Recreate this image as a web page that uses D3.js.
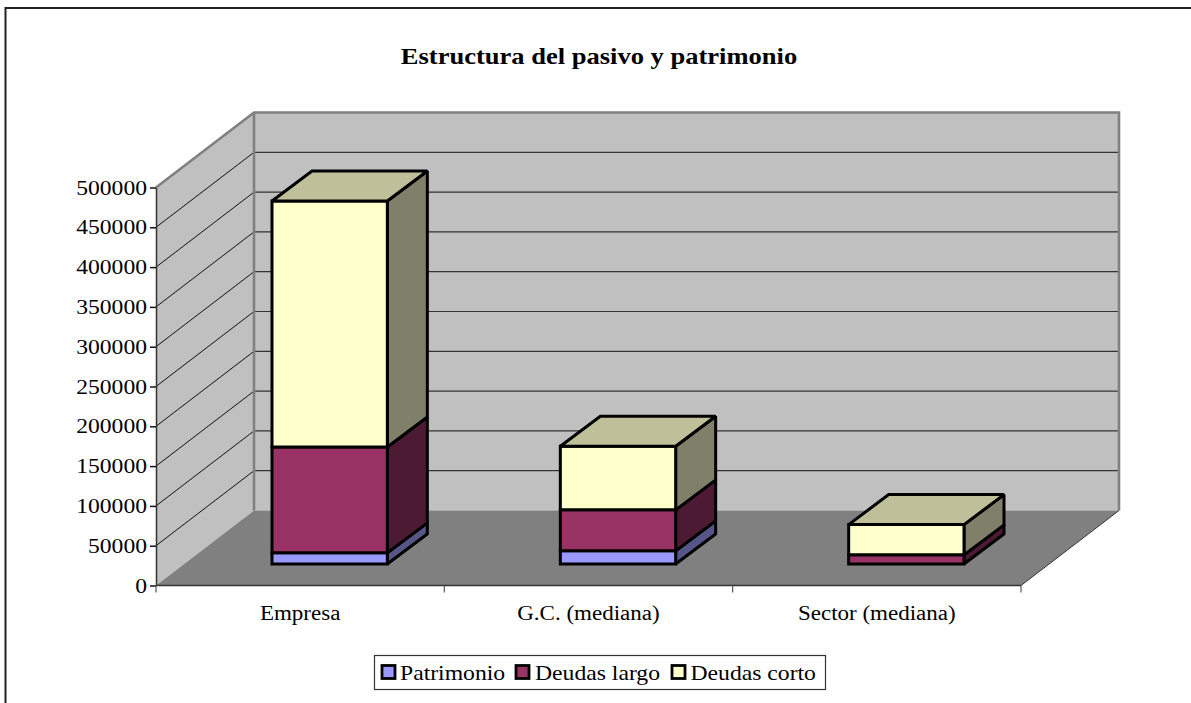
<!DOCTYPE html>
<html>
<head>
<meta charset="utf-8">
<script src="https://cdn.jsdelivr.net/npm/d3@7"></script>
<style>
html, body { margin: 0; padding: 0; background: #fff; overflow: hidden; }
text { font-family: "Liberation Serif", serif; fill: #000; }
</style>
</head>
<body>
<svg width="1191" height="703"></svg>
<script>
var categories = ["Empresa", "G.C. (mediana)", "Sector (mediana)"];
var seriesNames = ["Patrimonio", "Deudas largo", "Deudas corto"];
var patrimonio = [14000, 16500, 0];
var deudasLargo = [133000, 51500, 11500];
var deudasCorto = [309000, 80000, 38000];
var yTicks = [0, 50000, 100000, 150000, 200000, 250000, 300000, 350000, 400000, 450000, 500000];

var front = ["#9999ff", "#993366", "#ffffcc"],
    side = ["#555587", "#4d1a33", "#80806a"],
    top3d = ["#9999ff", "#993366", "#bfbf99"];

var svg = d3.select("svg"),
    x0 = 156, x1 = 1021,
    y0 = 585.5, y1 = 187.5,
    wallDx = 98, wallDy = 75,
    barDx = 40, barDy = 30,
    barShiftX = 29.5, barShiftY = 21.5;

var x = d3.scaleBand().domain(categories).range([x0, x1]).paddingInner(0.6).paddingOuter(0.3);
var xEdge = d3.scaleLinear().domain([0, categories.length]).range([x0, x1]);
var y = d3.scaleLinear().domain([0, 500000]).range([y0, y1]);

function pts(a) { return a.map(function(p) { return p.join(","); }).join(" "); }

// the reference text is stretched sideways
function widen(sel, k) {
  sel.each(function() {
    this.setAttribute("textLength", this.getComputedTextLength() * k);
    this.setAttribute("lengthAdjust", "spacingAndGlyphs");
  });
}

// outer frame, runs off the right and bottom of the page
svg.append("path")
    .attr("d", "M5.5,703V8H1191")
    .attr("fill", "none").attr("stroke", "#222").attr("stroke-width", 2);

svg.append("text")
    .attr("x", 599).attr("y", 64)
    .attr("text-anchor", "middle")
    .attr("font-size", 24).attr("font-weight", "bold")
    .text("Estructura del pasivo y patrimonio")
    .call(widen, 1.105);

// walls and floor
svg.append("polygon")
    .attr("points", pts([[x0, y0], [x0 + wallDx, y0 - wallDy], [x0 + wallDx, y1 - wallDy], [x0, y1]]))
    .attr("fill", "#c0c0c0");
svg.append("polygon")
    .attr("points", pts([[x0 + wallDx, y0 - wallDy], [x1 + wallDx, y0 - wallDy], [x1 + wallDx, y1 - wallDy], [x0 + wallDx, y1 - wallDy]]))
    .attr("fill", "#c0c0c0");
svg.append("polygon")
    .attr("points", pts([[x0, y0], [x1, y0], [x1 + wallDx, y0 - wallDy], [x0 + wallDx, y0 - wallDy]]))
    .attr("fill", "#808080");

// gridlines
var grid = yTicks.slice(1);
svg.append("g").selectAll("line").data(grid.slice(0, -1)).enter().append("line")
    .attr("x1", x0).attr("y1", function(d) { return y(d); })
    .attr("x2", x0 + wallDx).attr("y2", function(d) { return y(d) - wallDy; })
    .attr("stroke", "#111").attr("stroke-width", 1);
svg.append("g").selectAll("line").data(grid.slice(0, -1)).enter().append("line")
    .attr("x1", x0 + wallDx).attr("y1", function(d) { return y(d) - wallDy; })
    .attr("x2", x1 + wallDx).attr("y2", function(d) { return y(d) - wallDy; })
    .attr("stroke", "#333").attr("stroke-width", 1.2);

// wall edges
svg.append("path")
    .attr("d", "M" + x0 + "," + y1 + "L" + (x0 + wallDx) + "," + (y1 - wallDy) + "H" + (x1 + wallDx) + "V" + (y0 - wallDy))
    .attr("fill", "none").attr("stroke", "#808080").attr("stroke-width", 2.6);
svg.append("line")
    .attr("x1", x0 + wallDx).attr("x2", x0 + wallDx)
    .attr("y1", y1 - wallDy).attr("y2", y0 - wallDy)
    .attr("stroke", "#808080").attr("stroke-width", 2.6);
svg.append("line")
    .attr("x1", x1).attr("y1", y0).attr("x2", x1 + wallDx).attr("y2", y0 - wallDy)
    .attr("stroke", "#333").attr("stroke-width", 1);

// stacked 3d bars
var table = categories.map(function(c, i) {
  return { cat: c, "Patrimonio": patrimonio[i], "Deudas largo": deudasLargo[i], "Deudas corto": deudasCorto[i] };
});
var stack = d3.stack().keys(seriesNames)(table);
var bars = svg.append("g")
    .attr("stroke", "#000").attr("stroke-width", 3)
    .attr("stroke-linejoin", "miter").attr("stroke-miterlimit", 1.5);

stack.forEach(function(layer, s) {
  layer.forEach(function(d) {
    if (d[1] - d[0] <= 0) return;
    var l = x(d.data.cat) + barShiftX, r = l + x.bandwidth(),
        b = y(d[0]) - barShiftY, t = y(d[1]) - barShiftY;
    bars.append("polygon").attr("fill", side[s])
        .attr("points", pts([[r, b], [r + barDx, b - barDy], [r + barDx, t - barDy], [r, t]]));
    bars.append("polygon").attr("fill", front[s])
        .attr("points", pts([[l, b], [r, b], [r, t], [l, t]]));
    if (s == seriesNames.length - 1) {
      bars.append("polygon").attr("fill", top3d[s])
          .attr("points", pts([[l, t], [r, t], [r + barDx, t - barDy], [l + barDx, t - barDy]]));
    }
  });
});

// axes
var yAxis = svg.append("g")
    .attr("transform", "translate(" + x0 + ",0)")
    .call(d3.axisLeft(y).tickValues(yTicks).tickFormat(d3.format("d")).tickSize(6).tickSizeOuter(0).tickPadding(3));
yAxis.select(".domain").attr("stroke", "#333").attr("stroke-width", 1.5);
yAxis.selectAll("line").attr("stroke", "#111").attr("stroke-width", 1.5);
yAxis.selectAll("text").attr("font-size", 20).attr("font-family", "Liberation Serif").attr("fill", "#000").attr("dy", "0.33em")
    .call(widen, 1.18);

var xLine = svg.append("g");
xLine.append("line")
    .attr("x1", x0).attr("x2", x1).attr("y1", y0).attr("y2", y0)
    .attr("stroke", "#333").attr("stroke-width", 1.5);
xLine.selectAll(".edge").data(d3.range(categories.length + 1)).enter().append("line")
    .attr("class", "edge")
    .attr("x1", function(d) { return xEdge(d); }).attr("x2", function(d) { return xEdge(d); })
    .attr("y1", y0).attr("y2", y0 + 7)
    .attr("stroke", "#555").attr("stroke-width", 1.2);
xLine.selectAll("text").data(categories).enter().append("text")
    .attr("x", function(d, i) { return xEdge(i + 0.5); })
    .attr("y", 620)
    .attr("text-anchor", "middle")
    .attr("font-size", 20)
    .text(function(d) { return d; })
    .call(widen, 1.15);

// legend
var swatchX = [382, 516, 672],
    legendTextX = [400, 535, 690.5];
var legend = svg.append("g");
legend.append("rect")
    .attr("x", 374.5).attr("y", 655.5).attr("width", 451).attr("height", 34)
    .attr("fill", "#fff").attr("stroke", "#333").attr("stroke-width", 1.2);
seriesNames.forEach(function(name, i) {
  legend.append("rect")
      .attr("x", swatchX[i]).attr("y", 665.5).attr("width", 13).attr("height", 13)
      .attr("fill", front[i]).attr("stroke", "#000").attr("stroke-width", 2.8);
  legend.append("text")
      .attr("x", legendTextX[i]).attr("y", 680)
      .attr("font-size", 21.5)
      .text(name)
      .call(widen, 1.1);
});
</script>
</body>
</html>
